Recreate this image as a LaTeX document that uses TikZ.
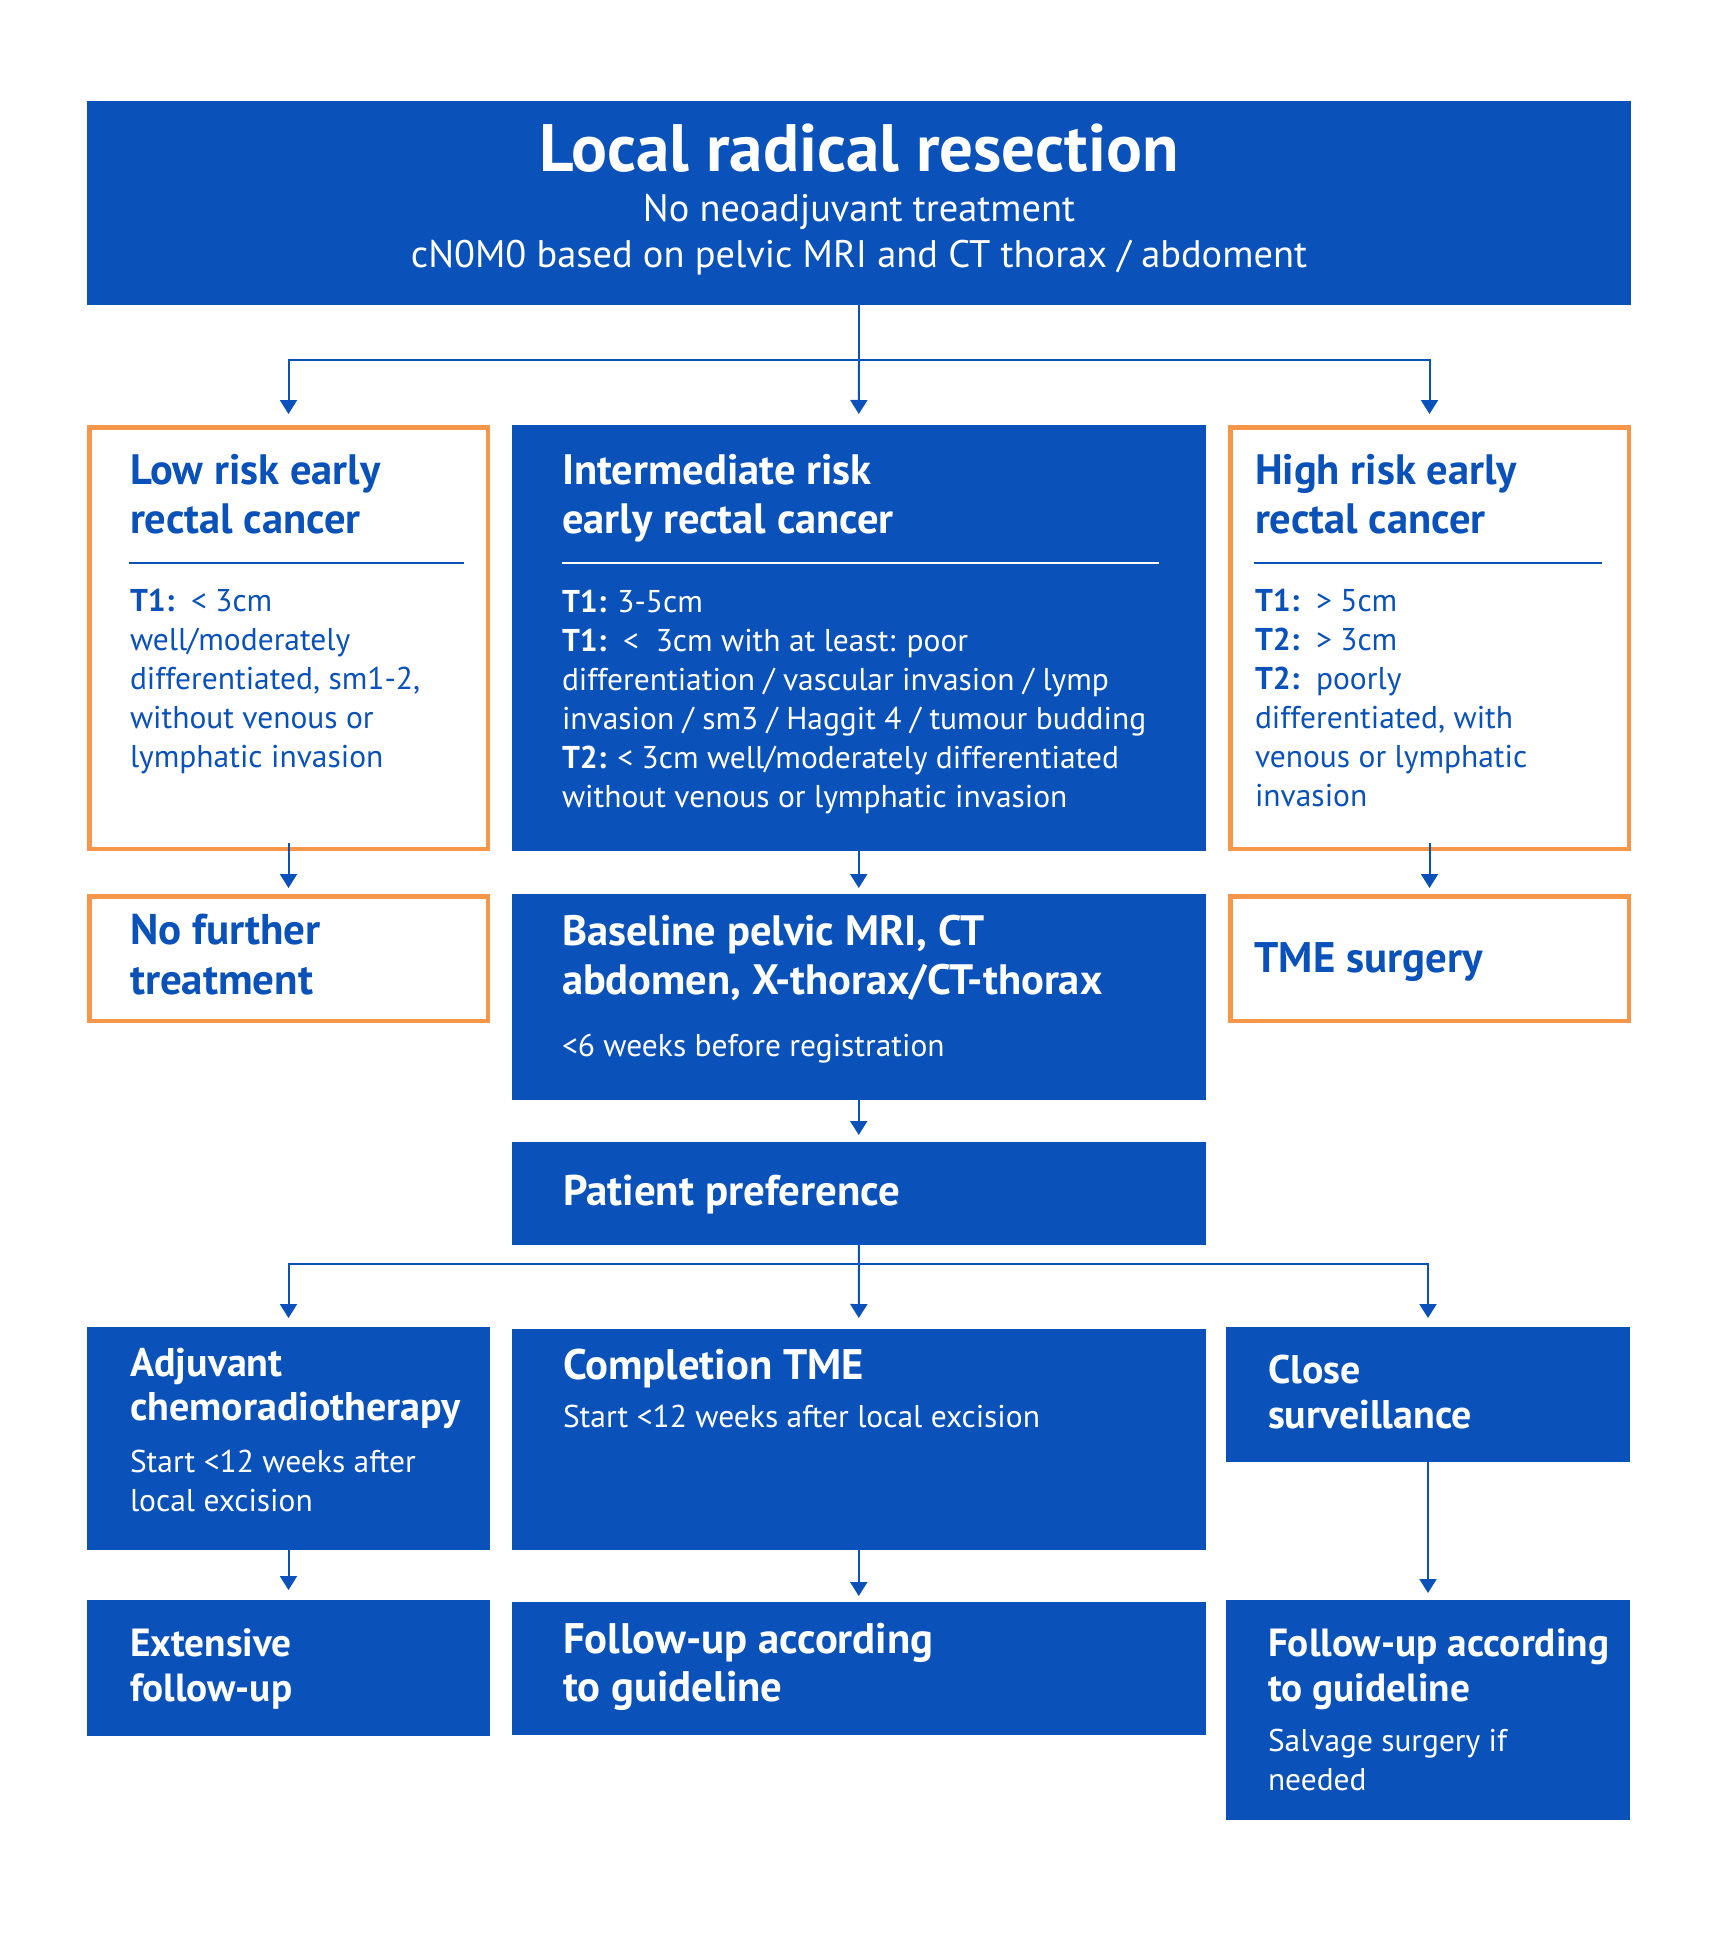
\documentclass[tikz,border=0pt]{standalone}
\usepackage{fontspec}
\setmainfont{PT Sans}
\usetikzlibrary{arrows.meta}
\definecolor{cblue}{RGB}{10,82,185}
\definecolor{corange}{RGB}{247,150,72}
\newcommand{\fhd}{\fontsize{42.5}{49}\selectfont\bfseries}
\newcommand{\fbd}{\fontsize{31.5}{39}\selectfont}
\tikzset{
  bluebox/.style={fill=cblue, draw=none, inner sep=0pt, outer sep=0pt, anchor=north west},
  orbox/.style={draw=corange, line width=4.5pt, fill=white, inner sep=0pt, outer sep=2.25pt, anchor=north west},
  txt/.style={anchor=base west, inner sep=0pt, outer sep=0pt},
  wtxt/.style={txt, text=white},
  btxt/.style={txt, text=cblue},
  conn/.style={draw=cblue, line width=2pt},
  arr/.style={conn, -{Triangle[width=17pt,length=14pt]}},
  divline/.style={line width=2pt},
}
\begin{document}
\begin{tikzpicture}[x=1pt,y=-1pt]
\fill[white] (0,0) rectangle (1709,1945);
\useasboundingbox (0,0) rectangle (1709,1945);

% ---------- top box
\node[bluebox, minimum width=1544pt, minimum height=204pt] (top) at (87,101) {};
\node[wtxt, anchor=base, font=\fontsize{67}{70}\selectfont\bfseries] (ttl) at (859,172) {Local radical resection};
\node[wtxt, anchor=base, font=\fontsize{38.4}{46}\selectfont] (sub1) at (859,221) {No neoadjuvant treatment};
\node[wtxt, anchor=base, font=\fontsize{38.4}{46}\selectfont] (sub2) at (859,267) {cN0M0 based on pelvic MRI and CT thorax / abdoment};

% ---------- row 2
\node[orbox, minimum width=398.5pt, minimum height=421.5pt] (low) at (87,425) {};
\node[bluebox, minimum width=694.5pt, minimum height=426pt] (mid) at (511.5,425) {};
\node[orbox, minimum width=398.5pt, minimum height=421.5pt] (high) at (1228,425) {};

\node[btxt, font=\fhd] (lowh) at (130,484) {\vtop{\hbox{Low risk early}\hbox{rectal cancer}}};
\draw[divline, cblue] (129,563) -- (464,563);
\node[btxt, font=\fbd] (lowb) at (130,611) {\vtop{\hbox{\textbf{T1:}~~< 3cm}\hbox{well/moderately}\hbox{differentiated, sm1-2,}\hbox{without venous or}\hbox{lymphatic invasion}}};

\node[wtxt, font=\fhd] (midh) at (562,484) {\vtop{\hbox{Intermediate risk}\hbox{early rectal cancer}}};
\draw[divline, white] (562,563) -- (1159,563);
\node[wtxt, font=\fbd] (midb) at (562,612) {\vtop{\hbox{\textbf{T1:} 3-5cm}\hbox{\textbf{T1:}~~<~~3cm with at least: poor}\hbox{differentiation / vascular invasion / lymp}\hbox{invasion / sm3 / Haggit 4 / tumour budding}\hbox{\textbf{T2:} < 3cm well/moderately differentiated}\hbox{without venous or lymphatic invasion}}};

\node[btxt, font=\fhd] (highh) at (1255,484) {\vtop{\hbox{High risk early}\hbox{rectal cancer}}};
\draw[divline, cblue] (1254,563) -- (1602,563);
\node[btxt, font=\fbd] (highb) at (1255,611.5) {\vtop{\hbox{\textbf{T1:}~~> 5cm}\hbox{\textbf{T2:}~~> 3cm}\hbox{\textbf{T2:}~~poorly}\hbox{differentiated, with}\hbox{venous or lymphatic}\hbox{invasion}}};

% ---------- row 3
\node[orbox, minimum width=398.5pt, minimum height=124.5pt] (nof) at (87,894) {};
\node[bluebox, minimum width=694.5pt, minimum height=206pt] (base) at (511.5,894) {};
\node[orbox, minimum width=398.5pt, minimum height=124.5pt] (tme) at (1228,894) {};

\node[btxt, font=\fontsize{43}{50}\selectfont\bfseries] (noft) at (130,944) {\vtop{\hbox{No further}\hbox{treatment}}};
\node[wtxt, font=\fontsize{42.5}{48.5}\selectfont\bfseries] (baseh) at (562,945.5) {\vtop{\hbox{Baseline pelvic MRI, CT}\hbox{abdomen, X-thorax/CT-thorax}}};
\node[wtxt, font=\fbd] (baseb) at (562,1056) {<6 weeks before registration};
\node[btxt, font=\fontsize{42.8}{50}\selectfont\bfseries] (tmet) at (1254.5,972.7) {TME surgery};

% ---------- row 4
\node[bluebox, minimum width=694.5pt, minimum height=103pt] (pat) at (511.5,1142) {};
\node[wtxt, font=\fontsize{42.9}{49}\selectfont\bfseries] (patt) at (563,1205) {Patient preference};

% ---------- row 5
\node[bluebox, minimum width=403pt, minimum height=223pt] (adj) at (87,1327) {};
\node[bluebox, minimum width=694.5pt, minimum height=221pt] (comp) at (511.5,1329) {};
\node[bluebox, minimum width=404pt, minimum height=135pt] (close) at (1226,1327) {};

\node[wtxt, font=\fontsize{40}{43.3}\selectfont\bfseries] (adjh) at (130,1376.7) {\vtop{\hbox{Adjuvant}\hbox{chemoradiotherapy}}};
\node[wtxt, font=\fbd] (adjb) at (130,1472) {\vtop{\hbox{Start <12 weeks after}\hbox{local excision}}};
\node[wtxt, font=\fontsize{42.7}{45}\selectfont\bfseries] (comph) at (563,1379) {Completion TME};
\node[wtxt, font=\fbd] (compb) at (563,1427) {Start <12 weeks after local excision};
\node[wtxt, font=\fontsize{39.9}{45}\selectfont\bfseries] (closeh) at (1268,1383) {\vtop{\hbox{Close}\hbox{surveillance}}};

% ---------- row 6
\node[bluebox, minimum width=403pt, minimum height=136pt] (ext) at (87,1600) {};
\node[bluebox, minimum width=694.5pt, minimum height=133pt] (fu) at (511.5,1602) {};
\node[bluebox, minimum width=404pt, minimum height=220pt] (fu2) at (1226,1600) {};

\node[wtxt, font=\fontsize{39.3}{45}\selectfont\bfseries] (extt) at (130,1656.7) {\vtop{\hbox{Extensive}\hbox{follow-up}}};
\node[wtxt, font=\fontsize{42.7}{48.7}\selectfont\bfseries] (fut) at (563,1653) {\vtop{\hbox{Follow-up according}\hbox{to guideline}}};
\node[wtxt, font=\fontsize{39.3}{45}\selectfont\bfseries] (fu2t) at (1268,1656.7) {\vtop{\hbox{Follow-up according}\hbox{to guideline}}};
\node[wtxt, font=\fontsize{31.4}{38.3}\selectfont] (fu2b) at (1268,1751.7) {\vtop{\hbox{Salvage surgery if}\hbox{needed}}};

% ---------- connectors
\coordinate (s1) at (859,360);
\draw[conn] (top.south) -- (s1);
\draw[arr, shorten >=11pt] (s1) -| (low.north);
\draw[arr, shorten >=11pt] (s1) -- (mid.north);
\draw[arr, shorten >=11pt] (s1) -| (high.north);

\draw[arr, shorten <=-8pt, shorten >=6pt] (low.south) -- (nof.north);
\draw[arr, shorten >=6pt] (mid.south) -- (base.north);
\draw[arr, shorten <=-8pt, shorten >=6pt] (high.south) -- (tme.north);

\draw[arr, shorten >=7pt] (base.south) -- (pat.north);

\coordinate (s2) at (859,1264);
\draw[conn] (pat.south) -- (s2);
\draw[arr, shorten >=9pt] (s2) -| (adj.north);
\draw[arr, shorten >=11pt] (s2) -- (comp.north);
\draw[arr, shorten >=9pt] (s2) -| (close.north);

\draw[arr, shorten >=10pt] (adj.south) -- (ext.north);
\draw[arr, shorten >=6pt] (comp.south) -- (fu.north);
\draw[arr, shorten >=7pt] (close.south) -- (fu2.north);
\end{tikzpicture}
\end{document}
